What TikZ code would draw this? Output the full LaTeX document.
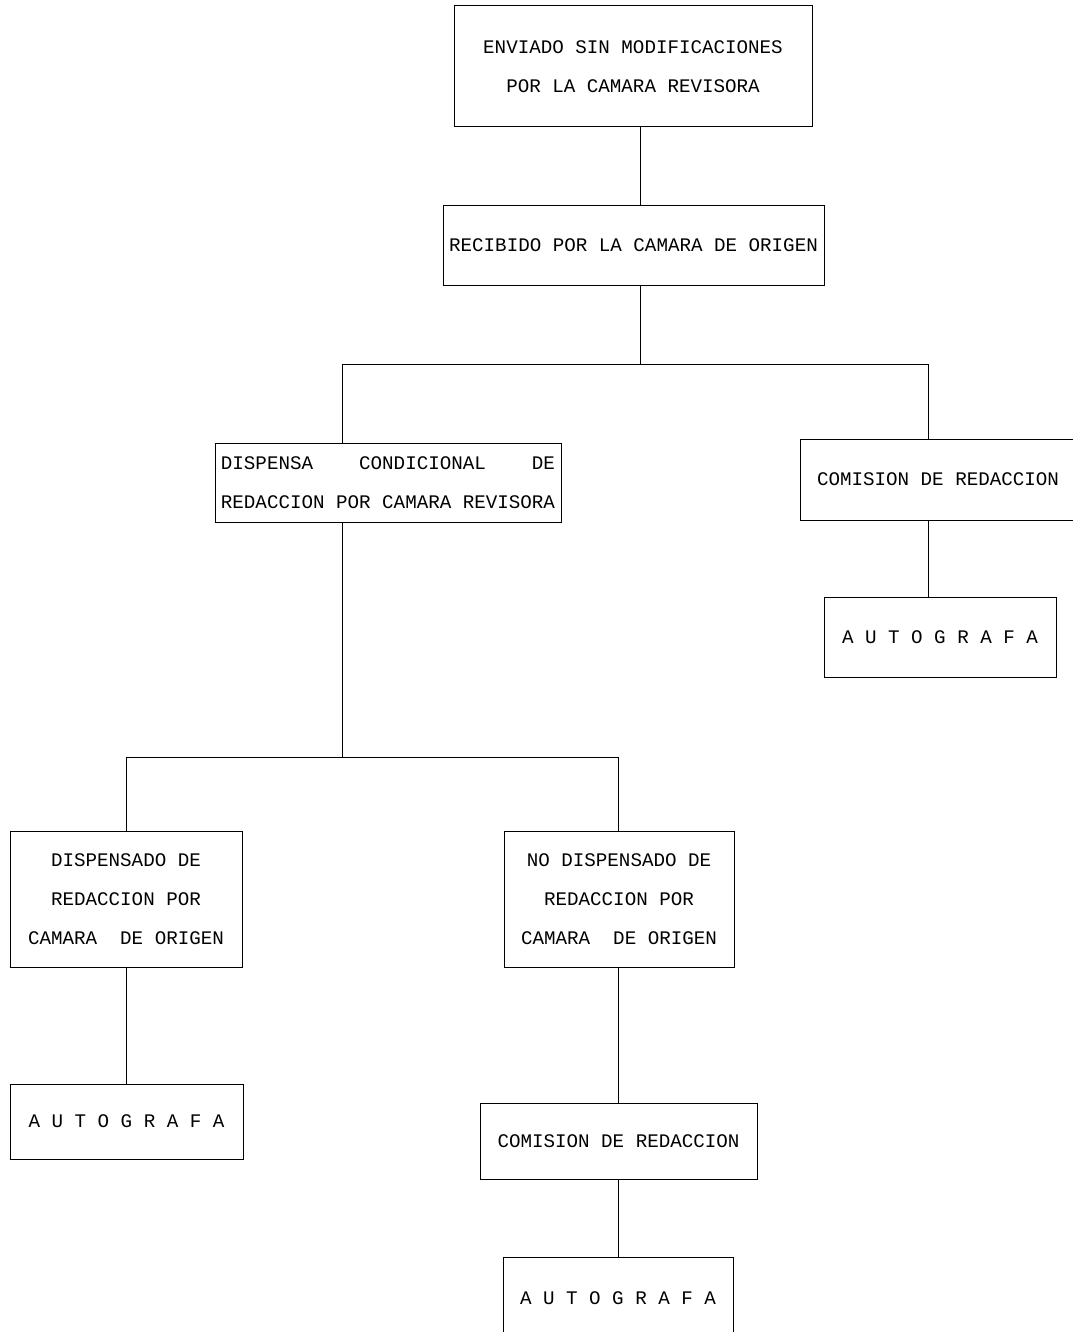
\documentclass[tikz,border=0pt]{standalone}
\usepackage{fontspec}
\usepackage{calc}
\newfontfamily\matriz{Liberation Mono}
\tikzset{
  caja/.style={draw, line width=1pt, inner sep=0pt, align=center,
    font=\matriz\fontsize{19.2}{39}\selectfont},
  linea/.style={draw, line width=1pt}
}
\begin{document}
\begin{tikzpicture}[x=1pt,y=-1pt]
          \useasboundingbox (0,0) rectangle (1072,1332);

          % cajas
          \node[caja, minimum width=358, minimum height=121] (enviado) at (633,66.5)
            {ENVIADO SIN MODIFICACIONES\\POR LA CAMARA REVISORA};
          \node[caja, minimum width=381, minimum height=79] (recibido) at (633.5,245.5)
            {RECIBIDO POR LA CAMARA DE ORIGEN};
          \node[caja, minimum width=346, minimum height=79] (dispensa) at (388,482.5)
            {\makebox[\widthof{REDACCION POR CAMARA REVISORA}]{DISPENSA\hfill CONDICIONAL\hfill DE}\\
             REDACCION POR CAMARA REVISORA};
          \node[caja, minimum width=276, minimum height=81] (comision) at (938,479.5)
            {COMISION DE REDACCION};
          \node[caja, minimum width=232, minimum height=80] (autografa) at (940,637)
            {A U T O G R A F A};
          \node[caja, minimum width=232, minimum height=136] (dispensado) at (126,899)
            {DISPENSADO DE\\REDACCION POR\\CAMARA\ \ DE ORIGEN};
          \node[caja, minimum width=230, minimum height=136] (nodisp) at (619,899)
            {NO DISPENSADO DE\\REDACCION POR\\CAMARA\ \ DE ORIGEN};
          \node[caja, minimum width=233, minimum height=75] (autografaA) at (126.5,1121.5)
            {A U T O G R A F A};
          \node[caja, minimum width=277, minimum height=76] (comisionB) at (618.5,1141)
            {COMISION DE REDACCION};
          \node[caja, minimum width=230, minimum height=82] (autografaB) at (618,1298)
            {A U T O G R A F A};

          % puntos de union
          \coordinate (nudo1) at (640,364);
          \coordinate (izq1) at (342,364);
          \coordinate (der1) at (928,364);
          \coordinate (nudo2) at (342,757);
          \coordinate (izq2) at (126,757);
          \coordinate (der2) at (618,757);

          % conexiones
          \draw[linea] (enviado.south -| nudo1) -- (recibido.north -| nudo1);
          \draw[linea] (recibido.south -| nudo1) -- (nudo1);
          \draw[linea] (dispensa.north -| izq1) -- (izq1) -- (der1) -- (comision.north -| der1);
          \draw[linea] (comision.south -| der1) -- (autografa.north -| der1);
          \draw[linea] (dispensa.south -| nudo2) -- (nudo2);
          \draw[linea] (dispensado.north -| izq2) -- (izq2) -- (der2) -- (nodisp.north -| der2);
          \draw[linea] (dispensado.south -| izq2) -- (autografaA.north -| izq2);
          \draw[linea] (nodisp.south -| der2) -- (comisionB.north -| der2);
          \draw[linea] (comisionB.south -| der2) -- (autografaB.north -| der2);
\end{tikzpicture}
\end{document}
